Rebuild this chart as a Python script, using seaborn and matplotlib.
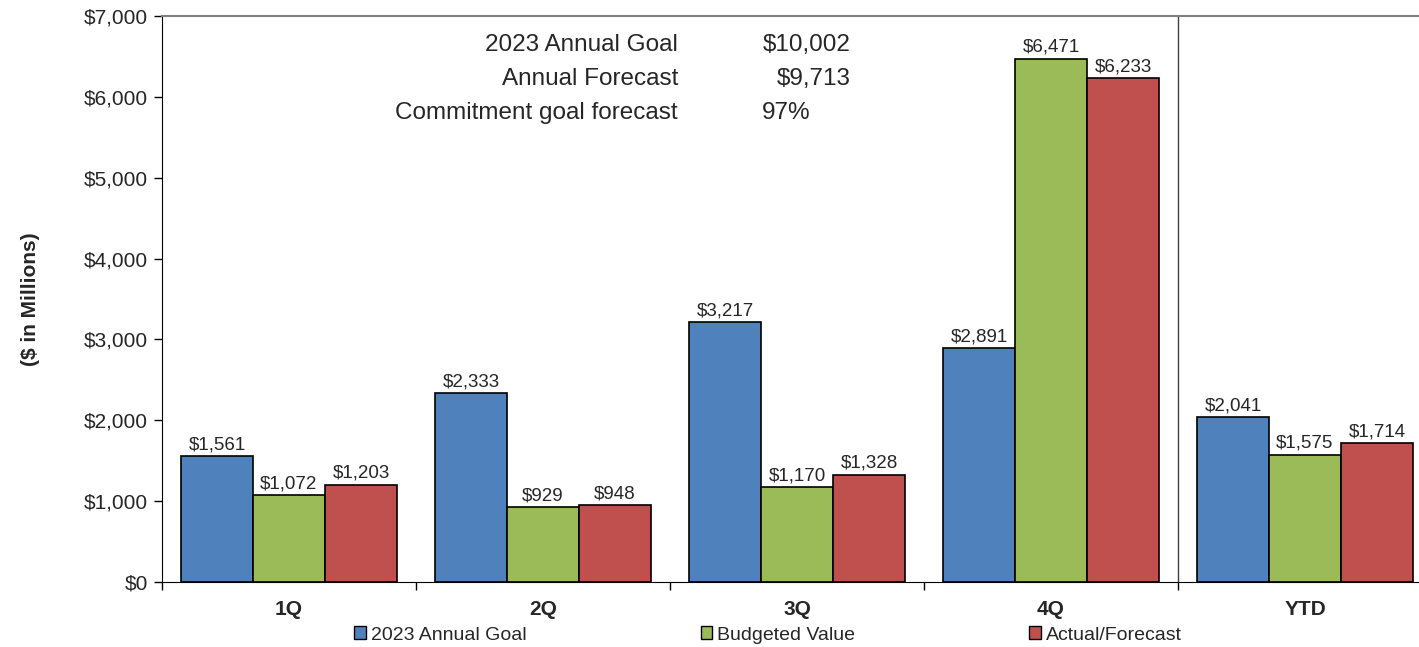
import pandas as pd
import matplotlib
matplotlib.use('Agg')
import matplotlib.pyplot as plt
import seaborn as sns
from matplotlib.ticker import FuncFormatter, FixedLocator
from matplotlib.patches import Patch

# dados do gráfico
trimestres = ['1Q', '2Q', '3Q', '4Q', 'YTD']
series = ['2023 Annual Goal', 'Budgeted Value', 'Actual/Forecast']
meta_anual = [1561, 2333, 3217, 2891, 2041]
orcado = [1072, 929, 1170, 6471, 1575]
real_previsto = [1203, 948, 1328, 6233, 1714]
cores = ['#4F81BD', '#9BBB59', '#C0504D']

resumo_rotulos = ['2023 Annual Goal', 'Annual Forecast', 'Commitment goal forecast']
resumo_valores = ['$10,002', '$9,713', '97%']

df = pd.DataFrame({
    'Trimestre': trimestres * 3,
    'Serie': [series[0]] * 5 + [series[1]] * 5 + [series[2]] * 5,
    'Valor': meta_anual + orcado + real_previsto,
})

sns.set_style('white')
plt.rcParams['font.family'] = ['Liberation Sans', 'DejaVu Sans']

fig = plt.figure(figsize=(14.19, 6.47), dpi=100)
ax = fig.add_axes([162 / 1419, 65 / 647, (1432 - 162) / 1419, 566 / 647])

sns.barplot(data=df, x='Trimestre', y='Valor', hue='Serie', order=trimestres,
            hue_order=series, palette=cores, width=0.85, saturation=1,
            edgecolor='black', linewidth=1.2, legend=False, ax=ax)

for cont in ax.containers:
    ax.bar_label(cont, labels=['${:,.0f}'.format(v) for v in cont.datavalues],
                 padding=2, fontsize=13.5)

ax.set_ylim(0, 7000)
ax.set_xlim(-0.5, 4.5)
ax.yaxis.set_major_formatter(FuncFormatter(lambda v, p: '${:,.0f}'.format(v)))
ax.set_yticks(range(0, 7001, 1000))
ax.tick_params(axis='y', labelsize=15, length=6, width=1, direction='out', left=True, color='black', pad=4)
ax.tick_params(axis='x', which='major', labelsize=15, length=0, pad=13)
ax.xaxis.set_minor_locator(FixedLocator([-0.5, 0.5, 1.5, 2.5, 3.5, 4.5]))
ax.tick_params(axis='x', which='minor', length=6, width=1, bottom=True, color='black')
for t in ax.get_xticklabels():
    t.set_fontweight('bold')

ax.set_xlabel('')
ax.set_ylabel('($ in Millions)', fontsize=15, fontweight='bold', labelpad=32)

ax.spines['top'].set_color('#808080')
ax.spines['top'].set_linewidth(1.5)
ax.spines['left'].set_color('black')
ax.spines['bottom'].set_color('black')
ax.spines['right'].set_visible(False)

ax.axvline(3.5, color='#404040', linewidth=1)

# resumo no topo
for i, (rot, val) in enumerate(zip(resumo_rotulos, resumo_valores)):
    y = 45 + 34 * i
    fig.text(678 / 1419, 1 - y / 647, rot, ha='right', va='center', fontsize=17.5)
    if i < 2:
        fig.text(851 / 1419, 1 - y / 647, val, ha='right', va='center', fontsize=17.5)
    else:
        fig.text(762 / 1419, 1 - y / 647, val, ha='left', va='center', fontsize=17.5)

handles = [Patch(facecolor=c, edgecolor='black', linewidth=1) for c in cores]
fig.legend(handles, series, ncol=3, loc='center', bbox_to_anchor=(768 / 1419, 1 - 635 / 647),
           frameon=False, fontsize=14, handlelength=0.6, handleheight=0.6,
           handletextpad=0.25, columnspacing=8.95, borderpad=0, borderaxespad=0)

fig.savefig('out.png', dpi=100)
